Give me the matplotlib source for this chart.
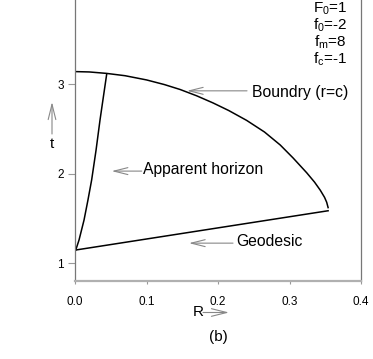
import matplotlib
matplotlib.use("Agg")
import matplotlib.pyplot as plt

plt.rcParams['font.family'] = ['Liberation Sans', 'DejaVu Sans']
plt.rcParams['mathtext.fontset'] = 'custom'
plt.rcParams['mathtext.rm'] = 'Liberation Sans'
plt.rcParams['mathtext.it'] = 'Liberation Sans'

# boundary r=c curve
boundary_R = [0.000, 0.020, 0.044, 0.070, 0.100, 0.125, 0.147, 0.170, 0.193, 0.215,
              0.240, 0.265, 0.287, 0.305, 0.324, 0.335, 0.343, 0.349, 0.352, 0.354]
boundary_t = [3.140, 3.136, 3.120, 3.094, 3.047, 2.995, 2.940, 2.870, 2.790, 2.705,
              2.595, 2.465, 2.320, 2.175, 2.010, 1.905, 1.815, 1.735, 1.680, 1.620]

# apparent horizon
horizon_R = [0.001, 0.0056, 0.0126, 0.018, 0.0233, 0.0294, 0.035, 0.039, 0.0443]
horizon_t = [1.145, 1.257, 1.48, 1.70, 1.93, 2.26, 2.60, 2.82, 3.11]

# geodesic
geodesic_R = [0.000, 0.354]
geodesic_t = [1.145, 1.585]

params = ['$\\mathrm{F_0}$=1', '$\\mathrm{f_0}$=-2', '$\\mathrm{f_m}$=8', '$\\mathrm{f_c}$=-1']

x_ticks = [0.0, 0.1, 0.2, 0.3, 0.4]
y_ticks = [1, 2, 3]

fig = plt.figure(figsize=(3.73, 3.59), dpi=100)
ax = fig.add_axes([75 / 373, 78 / 359, 286 / 373, 281 / 359])

ax.plot(boundary_R, boundary_t, color='black', lw=1.1)
ax.plot(horizon_R, horizon_t, color='black', lw=1.1)
ax.plot(geodesic_R, geodesic_t, color='black', lw=1.1)

ax.set_xlim(0, 0.4)
ax.set_ylim(0.8, 3.94)
ax.set_xticks(x_ticks)
ax.set_xticklabels(['%.1f' % v for v in x_ticks])
ax.set_yticks(y_ticks)
ax.set_yticklabels([str(v) for v in y_ticks])
ax.tick_params(axis='y', length=5, width=0.8, color='#999999', labelsize=8.5, pad=3)
ax.tick_params(axis='x', length=2.5, width=0.8, color='#999999', labelsize=8.5, pad=8)

ax.spines['top'].set_visible(False)
ax.spines['left'].set_color('#777777')
ax.spines['left'].set_linewidth(0.9)
ax.spines['right'].set_color('#777777')
ax.spines['right'].set_linewidth(0.9)
ax.spines['bottom'].set_color('#b0b0b0')
ax.spines['bottom'].set_linewidth(1.6)

arrow = dict(arrowstyle='->,head_length=1.0,head_width=0.25', color='#888888',
             lw=0.8, shrinkA=0, shrinkB=0)

# annotations
ax.annotate('', xy=(0.1566, 2.925), xytext=(0.2406, 2.925), arrowprops=arrow)
ax.text(0.2476, 2.91, 'Boundry (r=c)', fontsize=11.3, va='center', ha='left')

ax.annotate('', xy=(0.0513, 2.028), xytext=(0.0933, 2.028), arrowprops=arrow)
ax.text(0.0951, 2.05, 'Apparent horizon', fontsize=11.3, va='center', ha='left')

ax.annotate('', xy=(0.1594, 1.223), xytext=(0.221, 1.223), arrowprops=arrow)
ax.text(0.2252, 1.246, 'Geodesic', fontsize=11.3, va='center', ha='left')

for i, s in enumerate(params):
    fig.text(330 / 373, 1 - (9 + 16.7 * i) / 359, s, fontsize=11, ha='center', va='center')

# axis labels with little arrows
fig.text(52 / 373, 1 - 144 / 359, 't', fontsize=11, ha='center', va='center')
fig.patches.append(matplotlib.patches.FancyArrowPatch(
    (52 / 373, 1 - 134 / 359), (52 / 373, 1 - 102 / 359), transform=fig.transFigure,
    arrowstyle='->,head_length=1.0,head_width=0.25', mutation_scale=11,
    color='#888888', lw=0.8, shrinkA=0, shrinkB=0))

fig.text(198 / 373, 1 - 312.5 / 359, 'R', fontsize=11, ha='center', va='center')
fig.patches.append(matplotlib.patches.FancyArrowPatch(
    (203 / 373, 1 - 312.5 / 359), (229 / 373, 1 - 312.5 / 359), transform=fig.transFigure,
    arrowstyle='->,head_length=1.0,head_width=0.25', mutation_scale=11,
    color='#888888', lw=0.8, shrinkA=0, shrinkB=0))

fig.text(218 / 373, 1 - 337 / 359, '(b)', fontsize=11, ha='center', va='center')

fig.savefig('out.png', dpi=100)
